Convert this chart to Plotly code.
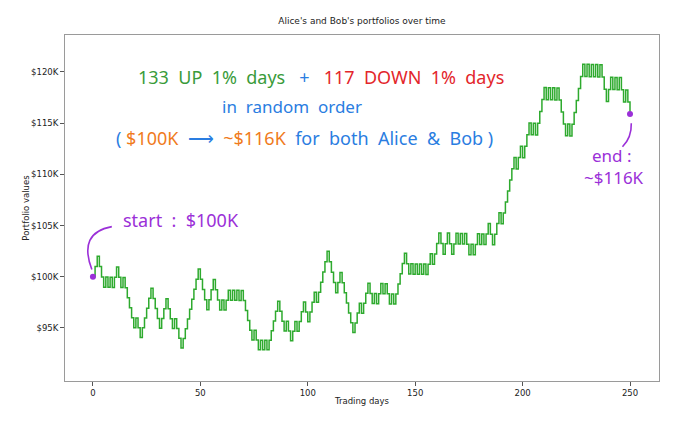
import numpy as np
import plotly.graph_objects as go

# Daily moves: U = up 1% day, D = down 1% day (days 1..250)
moves_by_decade = [
    "UUDDDUDUDU", "UDDUDDDDDU", "DDUUUUUDDD", "DUUUDDDUDD", "DUUUUUUUUD",
    "DDDUUUDDDU", "DUUDUDUDUD", "DDDDUDDUDU", "DUUUUUDDDU", "DDUUDUUUDD",
    "UUUDUUUUUD", "DDDUUDDDDD", "DUUUDUUUDD", "UDUUDUDDUD", "UUUUUDDUDU",
    "DUDUDUUDUU", "UDDUUDDUUD", "UDUDDUDUUD", "UDUUDDUUUD", "UUUUUUDUUD",
    "UUUDUDUUUU", "DUDUDUDDDD", "UDUUUUUUDU", "DUDUDUDDDU", "UDUDUDDUDD",
]
start_value = 100000
up_factor = 1.01
down_factor = 0.99

y_tick_vals = [95000, 100000, 105000, 110000, 115000, 120000]
y_tick_text = ["$95K", "$100K", "$105K", "$110K", "$115K", "$120K"]
x_tick_vals = [0, 50, 100, 150, 200, 250]

moves = "".join(moves_by_decade)
factors = [up_factor if m == "U" else down_factor for m in moves]
values = [start_value]
for f in factors:
    values.append(values[-1] * f)
days = list(range(len(values)))

GREEN = "#3a9b3a"
LINE_GREEN = "#2eaa2e"
BLUE = "#2a7de1"
RED = "#e3262b"
ORANGE = "#f07b1c"
PURPLE = "#9b30d8"

fig = go.Figure()
fig.add_trace(go.Scatter(x=days, y=values, mode="lines", line_shape="hv",
                         line=dict(color=LINE_GREEN, width=1.5), hoverinfo="skip"))
fig.add_trace(go.Scatter(x=[days[0], days[-1]], y=[values[0], values[-1]], mode="markers",
                         marker=dict(color=PURPLE, size=6), hoverinfo="skip"))

hand = "Noto Sans"
def span(t, c):
    return f'<span style="color:{c}">{t}</span>'

annos = [
    dict(x=0.431, y=0.879, text=span("133  UP  1%  days", GREEN) + "   " + span("+", BLUE) + "   "
         + span("117  DOWN  1%  days", RED), size=18),
    dict(x=0.382, y=0.792, text=span("in  random  order", BLUE), size=17),
    dict(x=0.404, y=0.702, text=span("( ", BLUE) + span("$100K", ORANGE) + span("  ⟶  ", BLUE)
         + span("~$116K", ORANGE) + span("  for  both  Alice  &amp;  Bob )", BLUE), size=18),
    dict(x=0.195, y=0.465, text=span("start  :  $100K", PURPLE), size=18),
    dict(x=0.921, y=0.653, text=span("end :", PURPLE), size=17),
    dict(x=0.924, y=0.587, text=span("~$116K", PURPLE), size=17),
]
for a in annos:
    fig.add_annotation(x=a["x"], y=a["y"], xref="paper", yref="paper", text=a["text"],
                       showarrow=False, font=dict(family=hand, size=a["size"]),
                       xanchor="center", yanchor="middle")

fig.add_shape(type="path", xref="x", yref="y",
              path="M 8.8,104900 Q -7,104300 -0.5,100700",
              line=dict(color=PURPLE, width=1.6))
fig.add_shape(type="path", xref="x", yref="y",
              path="M 250.6,115000 Q 250.8,113600 246.5,112700",
              line=dict(color=PURPLE, width=1.6))

axis_common = dict(showgrid=False, zeroline=False, showline=True, linecolor="#9a9a9a",
                   linewidth=1, mirror=True, ticks="outside", ticklen=4, tickcolor="#555",
                   tickfont=dict(family="DejaVu Sans", size=8.5, color="#222"))
fig.update_xaxes(range=[-13, 263.5], tickvals=x_tick_vals,
                 title=dict(text="Trading days", font=dict(family="DejaVu Sans", size=8.5, color="#222"),
                            standoff=0), **axis_common)
fig.update_yaxes(range=[89820, 123610], tickvals=y_tick_vals, ticktext=y_tick_text,
                 title=dict(text="Portfolio values", font=dict(family="DejaVu Sans", size=8.5, color="#222"),
                            standoff=0), **axis_common)

fig.update_layout(
    width=679, height=424,
    margin=dict(l=65, r=20, t=35, b=43),
    paper_bgcolor="white", plot_bgcolor="white",
    showlegend=False,
    title=dict(text="Alice's and Bob's portfolios over time", x=0.533, xanchor="center",
               y=0.952, yanchor="middle", font=dict(family="DejaVu Sans", size=9, color="#222")),
)
fig.write_html("out.html")
